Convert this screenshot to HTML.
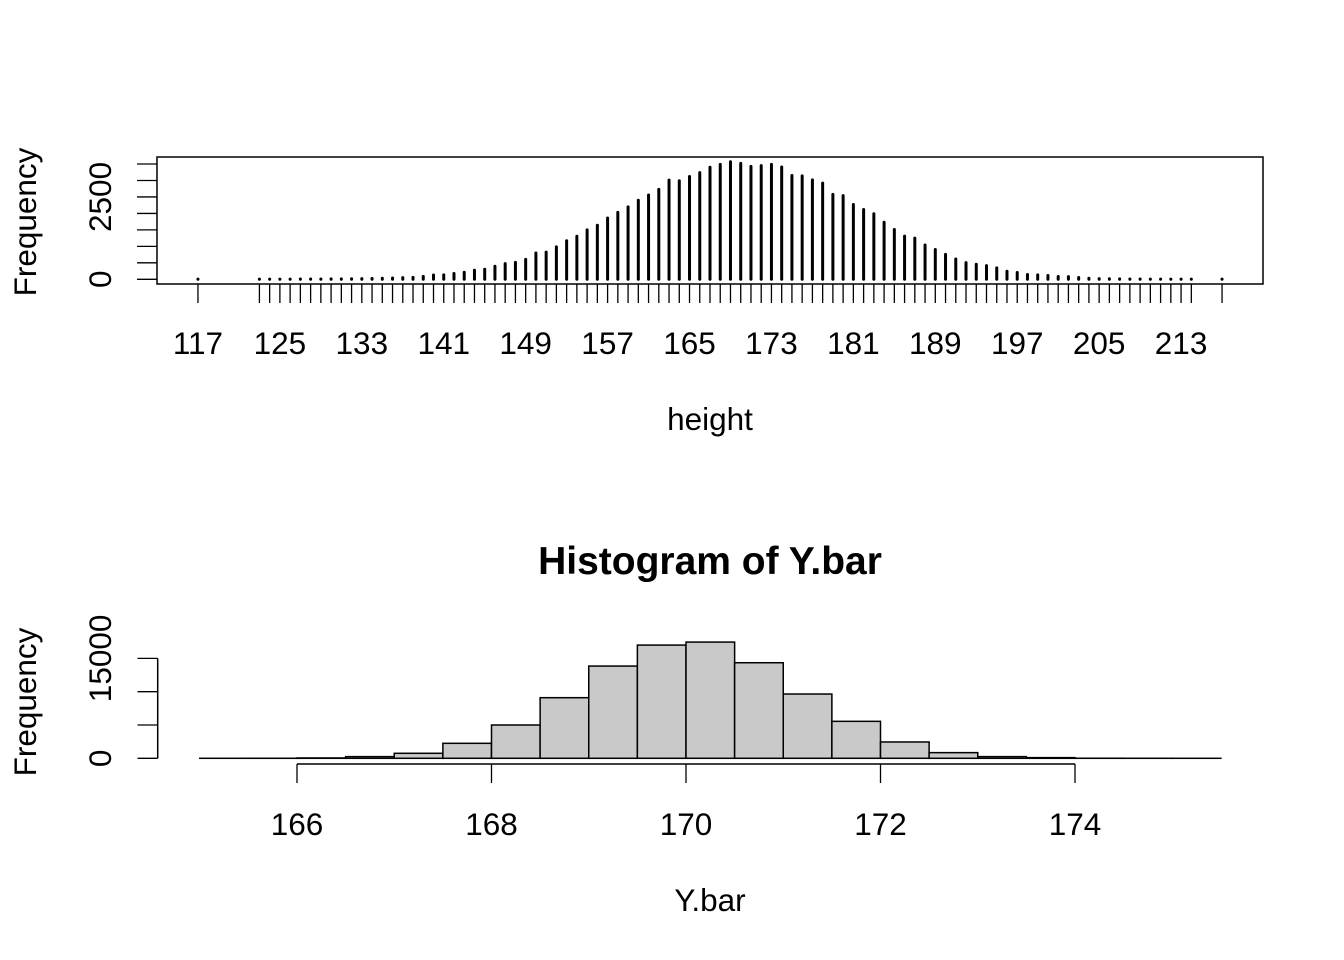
<!DOCTYPE html>
<html><head><meta charset="utf-8"><style>
html,body{margin:0;padding:0;background:#fff}
svg{display:block}
text{font-family:"Liberation Sans",Arial,sans-serif;fill:#000}
</style></head><body>
<svg id="chart" width="1344" height="960" viewBox="0 0 1344 960">
<g id="topPlot"></g>
<g id="botPlot"></g>
</svg>
<script>
// ---- top plot data (table of heights) ----
const heightValues = [117,123,124,125,126,127,128,129,130,131,132,133,134,135,136,137,138,139,140,141,142,143,144,145,146,147,148,149,150,151,152,153,154,155,156,157,158,159,160,161,162,163,164,165,166,167,168,169,170,171,172,173,174,175,176,177,178,179,180,181,182,183,184,185,186,187,188,189,190,191,192,193,194,195,196,197,198,199,200,201,202,203,204,205,206,207,208,209,210,211,212,213,214,217];
const heightCounts = [5,5,6,6,7,8,9,10,12,14,16,20,25,32,40,50,60,90,130,135,175,215,275,305,395,475,515,605,800,825,985,1170,1305,1500,1640,1860,2030,2200,2400,2560,2730,3010,2990,3120,3240,3400,3490,3570,3520,3430,3450,3490,3410,3150,3140,3020,2920,2580,2540,2270,2120,1990,1730,1510,1310,1250,1040,905,755,615,505,455,415,345,245,205,145,135,115,85,80,55,30,20,15,12,10,8,7,6,5,5,5,4];
const heightTickLabels = [117,125,133,141,149,157,165,173,181,189,197,205,213];
const topYTicks = [0,500,1000,1500,2000,2500,3000,3500];
const topYLabels = [0,2500];
// ---- bottom plot data (histogram of Y.bar) ----
const binStarts = [165,165.5,166,166.5,167,167.5,168,168.5,169,169.5,170,170.5,171,171.5,172,172.5,173,173.5,174,174.5,175];
const binCounts = [2,5,50,250,750,2250,5000,9100,13850,17000,17450,14350,9650,5550,2450,850,250,100,10,3,1];
const binWidth = 0.5;
const botXTicks = [166,168,170,172,174];
const botYTicks = [0,5000,10000,15000];
const botYLabels = [0,15000];

const NS="http://www.w3.org/2000/svg";
const FS=31.5;
function mk(parent,tag,attrs,txt){const e=document.createElementNS(NS,tag);for(const k in attrs)e.setAttribute(k,attrs[k]);if(txt!==undefined)e.textContent=txt;parent.appendChild(e);return e;}

// ---- top plot ----
const topG=document.getElementById('topPlot');
const tL=157,tR=1263,tT=157,tB=284;
const tMaxY=Math.max(...heightCounts);
const xMinT=Math.min(...heightValues),xMaxT=Math.max(...heightValues);
const xPadT=(xMaxT-xMinT)*0.04;
const tx=v=>tL+(v-(xMinT-xPadT))/((xMaxT+xPadT)-(xMinT-xPadT))*(tR-tL);
const ty=v=>tB-(v+tMaxY*0.04)/(tMaxY*1.08)*(tB-tT);
heightValues.forEach((v,i)=>{
  const l=mk(topG,'line',{x1:tx(v),x2:tx(v),y1:ty(0),y2:ty(heightCounts[i]),stroke:'#000','stroke-width':3,'stroke-linecap':'round'});
  
  
  const t=mk(topG,'line',{x1:tx(v),x2:tx(v),y1:tB,y2:tB+19,stroke:'#000','stroke-width':1.3});
  
  
});
const tbox=mk(topG,'rect',{x:tL,y:tT,width:tR-tL,height:tB-tT,fill:'none',stroke:'#000','stroke-width':1.5});


heightTickLabels.forEach(v=>{
  const t=mk(topG,'text',{x:tx(v),y:354,'font-size':FS,'text-anchor':'middle'},String(v));
  
  
});
topYTicks.forEach(v=>{
  const t=mk(topG,'line',{x1:tL,x2:tL-20,y1:ty(v),y2:ty(v),stroke:'#000','stroke-width':1.3});
  
  
});
topYLabels.forEach(v=>{
  const t=mk(topG,'text',{x:0,y:0,'font-size':FS,'text-anchor':'middle',transform:`translate(111,${ty(v)}) rotate(-90)`},String(v));
  
  
});
let el=mk(topG,'text',{x:710,y:430,'font-size':FS,'text-anchor':'middle'},'height');


el=mk(topG,'text',{x:0,y:0,'font-size':FS,'text-anchor':'middle',transform:'translate(36,222) rotate(-90)'},'Frequency');



// ---- bottom histogram ----
const botG=document.getElementById('botPlot');
const bx=v=>686+(v-170)*97.25;
const by=v=>758.3-v*(33.3/5000);
binStarts.forEach((s,i)=>{
  const r=mk(botG,'rect',{x:bx(s),y:by(binCounts[i]),width:bx(s+binWidth)-bx(s),height:by(0)-by(binCounts[i]),fill:'#c9c9c9',stroke:'#000','stroke-width':1.5});
  
  
});
el=mk(botG,'line',{x1:bx(botXTicks[0]),x2:bx(botXTicks[botXTicks.length-1]),y1:764,y2:764,stroke:'#000','stroke-width':1.5});


botXTicks.forEach(v=>{
  const t=mk(botG,'line',{x1:bx(v),x2:bx(v),y1:764,y2:783,stroke:'#000','stroke-width':1.3});
  
  
  const l=mk(botG,'text',{x:bx(v),y:835,'font-size':FS,'text-anchor':'middle'},String(v));
  
  
});
el=mk(botG,'line',{x1:157.7,x2:157.7,y1:by(botYTicks[botYTicks.length-1]),y2:by(0),stroke:'#000','stroke-width':1.5});


botYTicks.forEach(v=>{
  const t=mk(botG,'line',{x1:157.7,x2:137.5,y1:by(v),y2:by(v),stroke:'#000','stroke-width':1.3});
  
  
});
botYLabels.forEach(v=>{
  const t=mk(botG,'text',{x:0,y:0,'font-size':FS,'text-anchor':'middle',transform:`translate(111,${by(v)}) rotate(-90)`},String(v));
  
  
});
el=mk(botG,'text',{x:710,y:574,'font-size':39,'font-weight':'bold','text-anchor':'middle'},'Histogram of Y.bar');


el=mk(botG,'text',{x:710,y:911,'font-size':FS,'text-anchor':'middle'},'Y.bar');


el=mk(botG,'text',{x:0,y:0,'font-size':FS,'text-anchor':'middle',transform:'translate(36,702) rotate(-90)'},'Frequency');


</script>
</body></html>
